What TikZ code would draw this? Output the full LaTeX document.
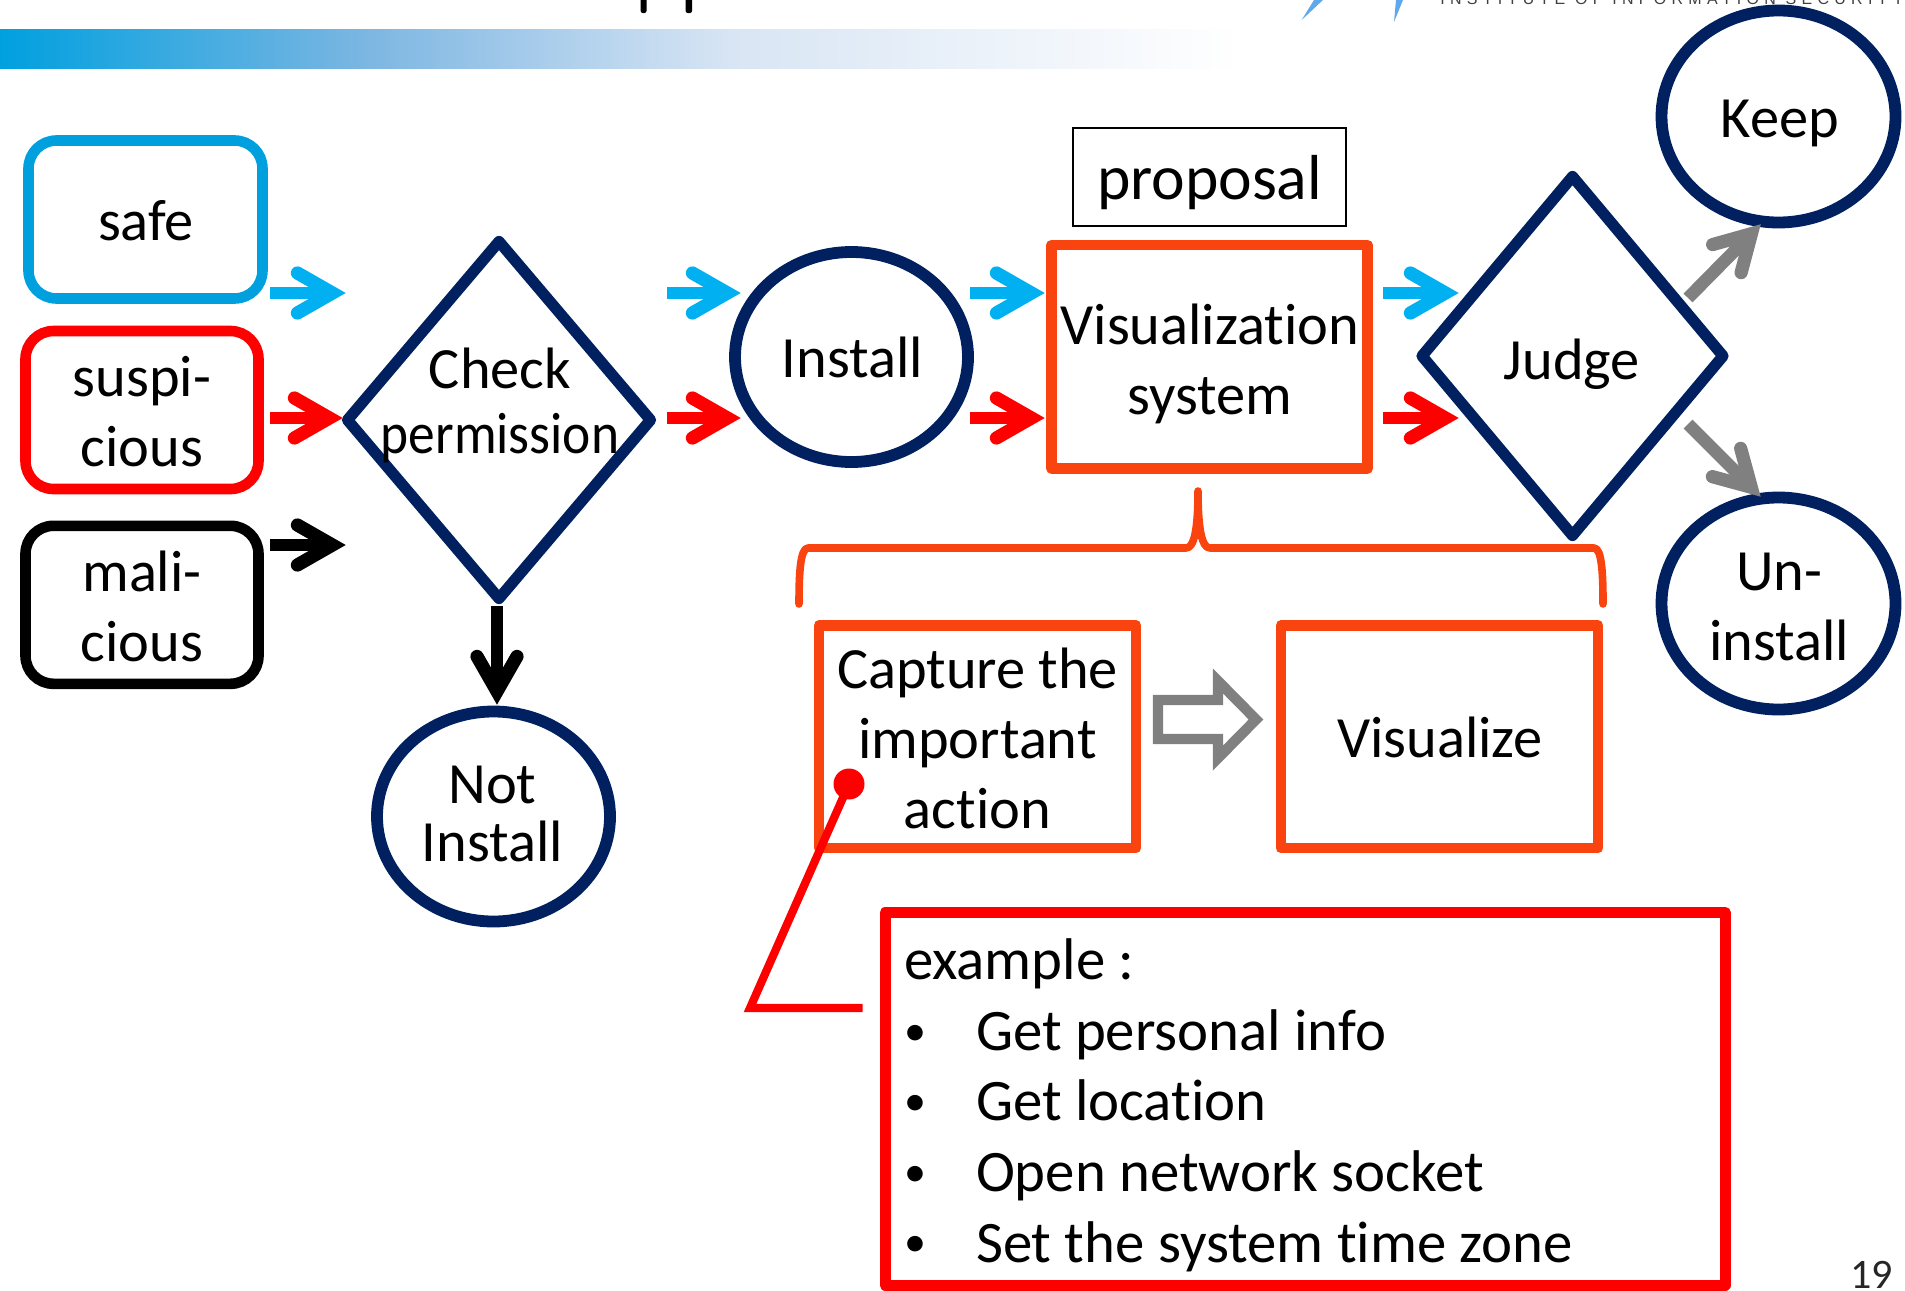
\documentclass[tikz,border=0pt]{standalone}
\usepackage{fontspec}
\usepackage{graphicx}
\setmainfont{Carlito}[RawFeature={-liga;-dlig;-clig}]
\newfontfamily\instfont[LetterSpace=33]{Liberation Sans}
\usetikzlibrary{shapes.geometric,decorations.markings}
\definecolor{navy}{HTML}{002060}
\definecolor{boxblue}{HTML}{00A0DF}
\definecolor{flowblue}{HTML}{00B0F0}
\definecolor{flamered}{HTML}{FA4410}
\definecolor{midgray}{HTML}{808080}
\definecolor{logoblue}{HTML}{5FA8EC}
\newcommand{\listdot}{\makebox[36pt][l]{\raisebox{2.6pt}{\fontsize{22}{22}\selectfont•}}}
\tikzset{
  lbl/.style={inner sep=0pt,outer sep=0pt,anchor=base,align=center,font=\fontsize{29.2}{35}\selectfont},
  lblt/.style={lbl,font=\fontsize{29.2}{29}\selectfont},
  lblc/.style={lbl,font=\fontsize{29.2}{32.5}\selectfont},
  kindbox/.style={draw=#1,line width=5.3pt,rounded corners=14pt,rectangle,inner sep=0pt,outer sep=0pt},
  stepbox/.style={draw=flamered,line width=5.4pt,line join=round,rectangle,inner sep=0pt,outer sep=0pt},
  decide/.style={draw=navy,line width=5.6pt,line join=round,diamond,inner sep=0pt,outer sep=0pt},
  endpoint/.style={draw=navy,line width=5.9pt,ellipse,inner sep=0pt,outer sep=0pt},
  flow/.style={draw=#1,line width=6.3pt,shorten >=8pt,
    postaction={decorate,decoration={markings,mark=at position 1 with {
      \draw[#1,shorten >=0pt,line width=6.6pt,line cap=round,line join=miter,miter limit=10]
        (-24.3pt,10pt)--(-6.8pt,0pt)--(-24.3pt,-10pt);}}}},
}
\begin{document}
\begin{tikzpicture}[x=0.5pt,y=-0.5pt]
\useasboundingbox (0,0) rectangle (1905,1290);
% slide furniture
\shade[left color=boxblue,right color={rgb,255:red,124;green,182;blue,226}] (0,29) rectangle (366,68);
\shade[left color={rgb,255:red,124;green,182;blue,226},right color={rgb,255:red,216;green,229;blue,244}] (365,29) rectangle (731,68);
\shade[left color={rgb,255:red,216;green,229;blue,244},right color=white] (730,29) rectangle (1240,68);
\fill[black,rounded corners=1pt] (640.7,-4) rectangle (646.5,13);
\fill[black,rounded corners=1pt] (685.7,-4) rectangle (692,13);
\fill[logoblue] (1301.6,20) -- (1314,0) -- (1323,0) -- cycle;
\fill[logoblue] (1394,22) -- (1396,0) -- (1403,0) -- cycle;
\begin{scope}
\clip (1400,0) rectangle (1905,29);
\node[inner sep=0pt,anchor=base west,font=\instfont\fontsize{8}{10}\selectfont,text=black!75] (inst) at (1440,4) {INSTITUTE OF INFORMATION SECURITY};
\end{scope}
\node[inner sep=0pt,anchor=base east,font=\fontsize{21}{24}\selectfont,text=black!85] (pageno) at (1893,1288) {19};
% category boxes
\node[kindbox=boxblue,minimum width=117pt,minimum height=79pt] (safe) at (145.5,219.5) {};
\node[lbl] (safeT) at (146,240.6) {safe};
\node[kindbox=red,minimum width=116.5pt,minimum height=79pt] (susp) at (142,410) {};
\node[lbl] (suspT) at (142,466) {suspi-\\cious};
\node[kindbox=black,minimum width=116.5pt,minimum height=79pt] (mali) at (142,604.8) {};
\node[lbl] (maliT) at (142,661) {mali-\\cious};
% decisions
\node[decide,minimum width=151.5pt,minimum height=178.5pt,aspect=0.85] (check) at (499,420) {};
\node[lblc] (checkT) at (500,453.5) {Check\\\scalebox{0.915}[1]{permission}};
\node[decide,minimum width=150.5pt,minimum height=179.5pt,aspect=0.83] (judge) at (1572.5,356) {};
\node[lbl] (judgeT) at (1572,379) {Judge};
% end points
\node[endpoint,minimum width=116.5pt,minimum height=105pt] (notinst) at (493.5,816.5) {};
\node[lblt] (notinstT) at (492.5,861) {Not\\Install};
\node[endpoint,minimum width=116.5pt,minimum height=105pt] (install) at (851.5,357) {};
\node[lbl] (installT) at (852.5,377) {Install};
\node[endpoint,minimum width=117pt,minimum height=106pt] (keep) at (1778.5,116.5) {};
\node[lbl] (keepT) at (1780,137.5) {Keep};
\node[endpoint,minimum width=117pt,minimum height=106pt] (uninst) at (1778.5,603.5) {};
\node[lbl] (uninstT) at (1779,660) {Un-\\install};
% system boxes
\node[draw=black,line width=0.8pt,minimum width=136.5pt,minimum height=49pt,inner sep=0pt,outer sep=0pt] (prop) at (1209.5,177) {};
\node[lbl,font=\fontsize{31.8}{35}\selectfont] (propT) at (1209.5,199) {proposal};
\node[stepbox,minimum width=158pt,minimum height=111.7pt] (vis) at (1209.5,356.7) {};
\node[lbl] (visT) at (1210,414) {Visualization\\system};
\node[stepbox,minimum width=158.5pt,minimum height=111.3pt] (capture) at (977.5,736.7) {};
\node[lbl] (captureT) at (977.5,828) {Capture the\\important\\action};
\node[stepbox,minimum width=158.5pt,minimum height=111.3pt] (visual) at (1439.5,736.7) {};
\node[lbl] (visualT) at (1440,757) {Visualize};
% brace
\draw[flamered,line width=3.8pt,line join=round,line cap=round]
  (799,604) .. controls (799,575) and (800,548) .. (808,548)
  -- (1186,548) .. controls (1194,548) and (1198,530) .. (1198,491)
  .. controls (1198,530) and (1202,548) .. (1210,548)
  -- (1594,548) .. controls (1602,548) and (1603,575) .. (1603,604);
% hollow arrow between the stages
\draw[midgray,fill=white,line width=5.2pt,miter limit=10]
  (1158,700) -- (1218,700) -- (1218,681) -- (1256,719.5) -- (1218,758) -- (1218,739) -- (1158,739) -- cycle;
% free ends of the flow arrows
\foreach \n/\x/\y in {a1/270/293,a2/346/293,b1/270/418,b2/343/418,c1/270/545,c2/346/545,
  d1/667/293,d2/741/293,e1/667/418,e2/741/418,f1/970/293,f2/1045/293,g1/970/418,g2/1045/418,
  h1/1383/293,h2/1459/293,i1/1383/418,i2/1459/418,j1/497/606,j2/497/705,
  k1/1688/298,k2/1761/224,l1/1688/424,l2/1761/497}
  {\coordinate (\n) at (\x,\y);}
\draw[flow=flowblue] (a1) -- (a2);
\draw[flow=red] (b1) -- (b2);
\draw[flow=black] (c1) -- (c2);
\draw[flow=flowblue] (d1) -- (d2);
\draw[flow=red] (e1) -- (e2);
\draw[flow=flowblue] (f1) -- (f2);
\draw[flow=red] (g1) -- (g2);
\draw[flow=flowblue] (h1) -- (h2);
\draw[flow=red] (i1) -- (i2);
\draw[flow=black] (j1) -- (j2);
\draw[flow=midgray] (k1) -- (k2);
\draw[flow=midgray] (l1) -- (l2);
% example call-out
\node[draw=red,line width=5.5pt,line join=round,minimum width=420pt,minimum height=186.3pt,inner sep=0pt,outer sep=0pt] (ex) at (1305,1098.7) {};
\node[inner sep=0pt,outer sep=0pt,anchor=base west,align=left,font=\fontsize{29.4}{35.3}\selectfont] (exT) at (904,1262)
  {example :\\\listdot Get personal info\\\listdot Get location\\\listdot Open network socket\\\listdot Set the system time zone};
\node[circle,fill=red,minimum size=15.5pt,inner sep=0pt,outer sep=0pt] (dot) at (849,784) {};
\coordinate (elbow) at (750,1008);
\coordinate (calloutEnd) at (862.6,1008);
\draw[red,line width=4.1pt,line join=miter] (dot.center) -- (elbow) -- (calloutEnd);
\end{tikzpicture}
\end{document}
